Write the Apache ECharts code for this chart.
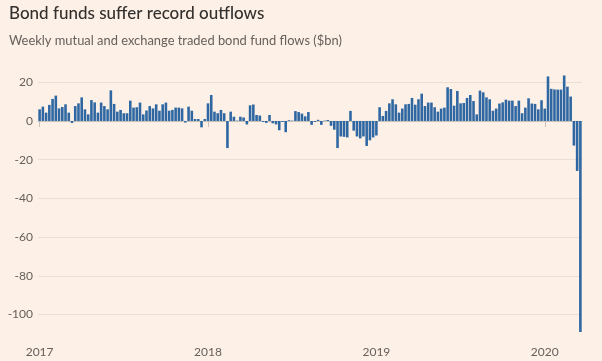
<!DOCTYPE html>
<html>
<head>
<meta charset="utf-8">
<script src="https://cdn.jsdelivr.net/npm/echarts@6/dist/echarts.min.js"></script>
<style>
  html, body { margin: 0; padding: 0; background: #fdf0e6; }
  #chart { width: 602px; height: 361px; }
</style>
</head>
<body>
<div id="chart"></div>
<script>
// Weekly flows, first week ending 2017-01-04, last week ending 2020-03-18
const firstWeek = '2017-01-04';
const yearLabels = ['2017', '2018', '2019', '2020'];

const flows2017 = [6.0, 7.4, 4.3, 8.3, 11.4, 13.1, 6.5, 7.2, 8.6, 4.3, -1.0, 7.7, 9.1, 12.2, 6.0, 3.4,
  10.8, 9.6, 4.3, 9.5, 7.7, 6.0, 15.8, 8.8, 4.8, 5.7, 4.0, 4.0, 10.5, 6.9, 7.1, 9.5, 3.4, 5.4, 7.7, 6.5,
  8.6, 5.3, 8.6, 9.5, 5.3, 5.7, 6.9, 6.9, 6.5, -0.8, 7.4, 5.3, 1.0, 1.0, -3.3, 1.0];
const flows2018 = [9.1, 13.4, 4.8, 4.0, 5.7, 4.0, -14.0, 4.8, 2.2, 0.2, 2.2, 1.8, -1.8, 8.1, 8.5, 3.1,
  2.8, -0.5, -1.0, 3.1, -1.2, -1.8, -4.8, -0.5, -5.8, 0.4, 0.2, 5.1, 4.6, 3.8, 2.4, 4.6, -2.0, -0.5, 0.6,
  -2.0, 0.2, 0.5, -2.5, -4.5, -14.0, -8.0, -8.2, -8.5, 5.2, -5.0, -8.0, -9.0, -8.0, -12.9, -10.0, -8.5];
const flows2019 = [-7.5, 7.1, 2.6, 5.2, 9.1, 11.2, 8.6, 4.3, 6.4, 8.6, 8.8, 11.9, 8.4, 11.2, 14.1, 7.7,
  9.5, 9.5, 7.1, 4.8, 6.4, 6.9, 17.4, 16.5, 7.9, 15.5, 9.1, 9.3, 11.9, 13.4, 10.3, 3.4, 15.7, 14.8, 12.2,
  11.2, 5.3, 6.4, 9.0, 9.6, 11.0, 10.5, 10.5, 7.7, 10.5, 4.0, 6.9, 11.7, 9.0, 8.8, 6.0, 10.7];
const flows2020 = [6.4, 23.0, 16.6, 16.3, 16.2, 16.2, 23.5, 17.7, 12.6, -12.7, -25.8, -109.0];

const flows = [].concat(flows2017, flows2018, flows2019, flows2020);

// weekly category labels (dates of each week)
const weeks = [];
{
  const t0 = Date.parse(firstWeek + 'T00:00:00Z');
  for (let i = 0; i < flows.length; i++) {
    weeks.push(new Date(t0 + i * 7 * 86400000).toISOString().slice(0, 10));
  }
}
const isYearStart = (idx) => {
  const w = weeks[idx];
  return w.slice(5, 7) === '01' && +w.slice(8, 10) <= 7;
};

const chart = echarts.init(document.getElementById('chart'), null, { renderer: 'canvas' });
const fontFamily = 'Lato, "Open Sans", sans-serif';

chart.setOption({
  backgroundColor: '#fdf0e6',
  animation: false,
  title: [
    {
      text: 'Bond funds suffer record outflows',
      left: 4, top: 0,
      textStyle: { fontFamily, fontSize: 17, fontWeight: 500, color: '#33302e' }
    },
    {
      text: 'Weekly mutual and exchange traded bond fund flows ($bn)',
      left: 4, top: 29,
      textStyle: { fontFamily, fontSize: 12.9, fontWeight: 'normal', color: '#66605c' }
    }
  ],
  grid: { left: 38, right: 20, top: 74.5, bottom: 29, containLabel: false },
  xAxis: {
    type: 'category',
    data: weeks,
    boundaryGap: true,
    axisLine: { show: true, lineStyle: { color: '#c9c1b8', width: 1 } },
    axisTick: {
      show: true, alignWithLabel: true, length: 6,
      interval: (idx) => isYearStart(idx),
      lineStyle: { color: '#c9c1b8' }
    },
    axisLabel: {
      interval: (idx) => isYearStart(idx),
      formatter: (val) => yearLabels[yearLabels.indexOf(val.slice(0, 4))],
      color: '#66605c', fontFamily, fontSize: 12, margin: 14
    },
    splitLine: { show: false }
  },
  yAxis: {
    type: 'value',
    min: -109, max: 24,
    splitNumber: 6, minInterval: 20, maxInterval: 20,
    axisLine: { show: false },
    axisTick: { show: false },
    axisLabel: {
      color: '#66605c', fontFamily, fontSize: 12, margin: 5,
      showMinLabel: false, showMaxLabel: false
    },
    splitLine: { show: true, showMinLine: false, showMaxLine: false, lineStyle: { color: '#ebded2', width: 1 } }
  },
  series: [{
    type: 'bar',
    data: flows,
    barCategoryGap: '20%',
    itemStyle: { color: '#2f67a2' }
  }]
});
</script>
</body>
</html>
